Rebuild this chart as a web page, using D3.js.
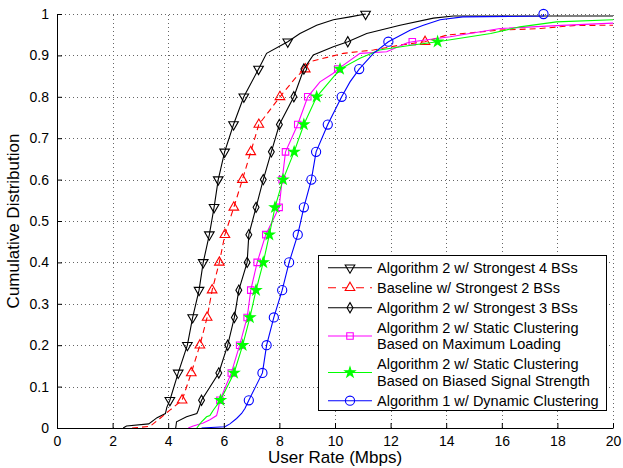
<!DOCTYPE html>
<html>
<head>
<meta charset="utf-8">
<script src="https://cdn.jsdelivr.net/npm/d3@7"></script>
<style>
  body { margin: 0; background: #fff; }
  svg { font-family: "Liberation Sans", Arial, sans-serif; }
</style>
</head>
<body>
<svg id="chart" width="623" height="468"></svg>
<script>
// Axis ticks
const xTicks = [0, 2, 4, 6, 8, 10, 12, 14, 16, 18, 20];
const yTicks = [0, 0.1, 0.2, 0.3, 0.4, 0.5, 0.6, 0.7, 0.8, 0.9, 1];

// Legend labels (one entry per series, split into lines)
const legendLabels = [
  ["Algorithm 2 w/ Strongest 4 BSs"],
  ["Baseline w/ Strongest 2 BSs"],
  ["Algorithm 2 w/ Strongest 3 BSs"],
  ["Algorithm 2 w/ Static Clustering", "Based on Maximum Loading"],
  ["Algorithm 2 w/ Static Clustering", "Based on Biased Signal Strength"],
  ["Algorithm 1 w/ Dynamic Clustering"]
];

// CDF points: [user rate, cumulative prob, marker?]
const alg2Strongest4 = [
  [2.38, 0], [2.5, 0.005], [3.3, 0.01], [3.6, 0.025], [3.9, 0.035], [3.95, 0.05],
  [4.06, 0.067, 1], [4.36, 0.133, 1], [4.69, 0.2, 1], [4.88, 0.267, 1], [5.11, 0.333, 1],
  [5.26, 0.4, 1], [5.48, 0.467, 1], [5.65, 0.533, 1], [5.8, 0.6, 1], [6.03, 0.667, 1],
  [6.35, 0.733, 1], [6.72, 0.8, 1], [7.25, 0.867, 1], [7.54, 0.905], [8.3, 0.933, 1],
  [8.74, 0.953], [9.34, 0.973], [9.94, 0.986], [10.54, 0.993], [11.1, 1, 1]
];
const baselineStrongest2 = [
  [2.7, 0], [3.35, 0.004], [3.7, 0.023], [4.06, 0.043],
  [4.5, 0.067, 1], [4.83, 0.133, 1], [5.14, 0.2, 1], [5.4, 0.267, 1], [5.58, 0.333, 1],
  [5.84, 0.4, 1], [6.04, 0.467, 1], [6.36, 0.533, 1], [6.67, 0.6, 1], [6.97, 0.667, 1],
  [7.26, 0.733, 1], [8.02, 0.8, 1], [8.62, 0.849], [8.93, 0.867, 1], [9.1, 0.885],
  [10.3, 0.905], [11.38, 0.913], [12.34, 0.925], [13.24, 0.933, 1], [14.02, 0.949],
  [15.9, 0.961], [17.4, 0.965], [18.57, 0.972], [20, 0.973]
];
const alg2Strongest3 = [
  [4.27, 0], [4.3, 0.015], [4.66, 0.027], [5.03, 0.035], [5.08, 0.043],
  [5.2, 0.067, 1], [5.82, 0.133, 1], [6.14, 0.2, 1], [6.38, 0.267, 1], [6.54, 0.333, 1],
  [6.84, 0.4, 1], [6.9, 0.467, 1], [7.16, 0.533, 1], [7.42, 0.6, 1], [7.71, 0.667, 1],
  [8.0, 0.733, 1], [8.52, 0.8, 1], [8.88, 0.867, 1], [9.22, 0.901], [9.94, 0.921],
  [10.46, 0.933, 1], [11.14, 0.953], [12.34, 0.973], [13.54, 0.99], [14.26, 0.995], [20, 0.995]
];
const staticMaxLoading = [
  [4.72, 0], [4.9, 0.005], [5.26, 0.012], [5.5, 0.02], [5.74, 0.03], [5.8, 0.045],
  [5.86, 0.067, 1], [6.27, 0.133, 1], [6.57, 0.2, 1], [6.84, 0.267, 1], [6.97, 0.333, 1],
  [7.2, 0.4, 1], [7.51, 0.467, 1], [7.99, 0.533, 1], [8.1, 0.6, 1], [8.22, 0.667, 1],
  [8.66, 0.733, 1], [9.02, 0.8, 1], [9.46, 0.836], [9.94, 0.857], [10.1, 0.867, 1],
  [10.9, 0.905], [11.86, 0.909], [12.58, 0.93], [12.78, 0.933, 1], [14.14, 0.945],
  [15.94, 0.965], [17.97, 0.972], [20, 0.978]
];
const staticBiasedSignal = [
  [5.03, 0], [5.2, 0.015], [5.38, 0.027], [5.5, 0.03], [5.62, 0.043],
  [5.88, 0.067, 1], [6.37, 0.133, 1], [6.68, 0.2, 1], [6.94, 0.267, 1], [7.16, 0.333, 1],
  [7.42, 0.4, 1], [7.64, 0.467, 1], [7.84, 0.533, 1], [8.13, 0.6, 1], [8.53, 0.667, 1],
  [8.88, 0.733, 1], [9.34, 0.8, 1], [10.18, 0.867, 1], [10.9, 0.893], [11.6, 0.913],
  [12.8, 0.925], [13.69, 0.933, 1], [15.6, 0.953], [16.65, 0.969], [17.97, 0.981], [20, 0.986]
];
const alg1Dynamic = [
  [5.2, 0], [6.04, 0.003], [6.22, 0.01], [6.46, 0.023], [6.64, 0.035], [6.76, 0.047],
  [6.9, 0.067, 1], [7.39, 0.133, 1], [7.54, 0.2, 1], [7.8, 0.267, 1], [8.1, 0.333, 1],
  [8.35, 0.4, 1], [8.66, 0.467, 1], [8.88, 0.533, 1], [9.15, 0.6, 1], [9.32, 0.667, 1],
  [9.74, 0.733, 1], [10.24, 0.8, 1], [10.54, 0.836], [10.87, 0.867, 1], [11.38, 0.905],
  [11.92, 0.933, 1], [12.7, 0.961], [13.18, 0.973], [13.78, 0.986], [14.6, 0.993],
  [17.5, 0.995], [17.5, 1, 1]
];

// Series styling, in plotting order
const series = [
  { data: alg2Strongest4, color: "#000000", marker: "triDown", dash: null },
  { data: baselineStrongest2, color: "#ff0000", marker: "triUp", dash: "6,4" },
  { data: alg2Strongest3, color: "#000000", marker: "diamond", dash: null },
  { data: staticMaxLoading, color: "#ff00ff", marker: "square", dash: null },
  { data: staticBiasedSignal, color: "#00ff00", marker: "star", dash: null },
  { data: alg1Dynamic, color: "#0000ff", marker: "circle", dash: null }
];

const svg = d3.select("#chart");
svg.append("rect").attr("width", 623).attr("height", 468).attr("fill", "#fff");

// Scales
const x = d3.scaleLinear().domain([0, 20]).range([57, 613]);
const y = d3.scaleLinear().domain([0, 1]).range([428, 14]);

// Dotted grid
const grid = svg.append("g")
  .attr("stroke", "#666")
  .attr("stroke-width", 1)
  .attr("stroke-dasharray", "1,3");
grid.selectAll(".gx").data(xTicks.slice(1)).join("line")
  .attr("x1", d => Math.round(x(d)) + 0.5).attr("x2", d => Math.round(x(d)) + 0.5)
  .attr("y1", y(0)).attr("y2", y(1));
grid.selectAll(".gy").data(yTicks.slice(1)).join("line")
  .attr("y1", d => Math.round(y(d)) + 0.5).attr("y2", d => Math.round(y(d)) + 0.5)
  .attr("x1", x(0)).attr("x2", x(20));

// Marker shapes
function markerPath(kind) {
  switch (kind) {
    case "triDown":
    case "triUp": return d3.symbol(d3.symbolTriangle, 40)();
    case "diamond": return d3.symbol(d3.symbolDiamond, 30)();
    case "square": return d3.symbol(d3.symbolSquare, 42)();
    case "star": return d3.symbol(d3.symbolStar, 32)();
    case "circle": return d3.symbol(d3.symbolCircle, 66)();
  }
}
function markerTransform(kind, px, py) {
  return kind === "triDown"
    ? `translate(${px},${py}) rotate(180)`
    : `translate(${px},${py})`;
}

// Curves and markers
const line = d3.line().x(d => x(d[0])).y(d => y(d[1]));
series.forEach(s => {
  svg.append("path")
    .attr("d", line(s.data))
    .attr("fill", "none")
    .attr("stroke", s.color)
    .attr("stroke-width", 1.1)
    .attr("stroke-dasharray", s.dash);

  svg.append("g").selectAll("path")
    .data(s.data.filter(d => d[2]))
    .join("path")
    .attr("d", markerPath(s.marker))
    .attr("transform", d => markerTransform(s.marker, x(d[0]), y(d[1])))
    .attr("fill", s.marker === "star" ? s.color : "none")
    .attr("stroke", s.color)
    .attr("stroke-width", 1.1);
});

// Axes with inward ticks
const xAxis = svg.append("g")
  .attr("transform", `translate(0,${y(0)})`)
  .call(d3.axisBottom(x).tickValues(xTicks).tickSize(-5).tickSizeOuter(0).tickPadding(8));
const yAxis = svg.append("g")
  .attr("transform", `translate(${x(0)},0)`)
  .call(d3.axisLeft(y).tickValues(yTicks).tickFormat(d => d).tickSize(-5).tickSizeOuter(0).tickPadding(8));
[xAxis, yAxis].forEach(a => {
  a.selectAll("text").attr("font-size", 14).attr("fill", "#000").attr("font-family", null);
  a.selectAll("line, path").attr("stroke", "#000");
});

// Axis titles
svg.append("text")
  .attr("x", 335).attr("y", 463)
  .attr("text-anchor", "middle")
  .attr("font-size", 17)
  .text("User Rate (Mbps)");
svg.append("text")
  .attr("transform", "translate(19,221) rotate(-90)")
  .attr("text-anchor", "middle")
  .attr("font-size", 17)
  .text("Cumulative Distribution");

// Legend
const legend = svg.append("g");
legend.append("rect")
  .attr("x", 318.5).attr("y", 255.5).attr("width", 288).attr("height", 155)
  .attr("fill", "#fff").attr("stroke", "#000").attr("stroke-width", 1);

const lineH = 16.5;
let entryTop = 257.7;
series.forEach((s, i) => {
  const lines = legendLabels[i];
  const h = lines.length * lineH + 3.5;
  const cy = entryTop + h / 2;
  legend.append("line")
    .attr("x1", 328).attr("x2", 372).attr("y1", cy).attr("y2", cy)
    .attr("stroke", s.color).attr("stroke-width", 1.1)
    .attr("stroke-dasharray", s.dash ? "8,6" : null);
  legend.append("path")
    .attr("d", markerPath(s.marker))
    .attr("transform", markerTransform(s.marker, 350, cy))
    .attr("fill", s.marker === "star" ? s.color : (s.dash ? "#fff" : "none"))
    .attr("stroke", s.color).attr("stroke-width", 1.1);
  lines.forEach((t, j) => {
    legend.append("text")
      .attr("x", 377)
      .attr("y", cy + (j - (lines.length - 1) / 2) * lineH)
      .attr("dy", "0.35em")
      .attr("font-size", 14.5)
      .text(t);
  });
  entryTop += h;
});
</script>
</body>
</html>
